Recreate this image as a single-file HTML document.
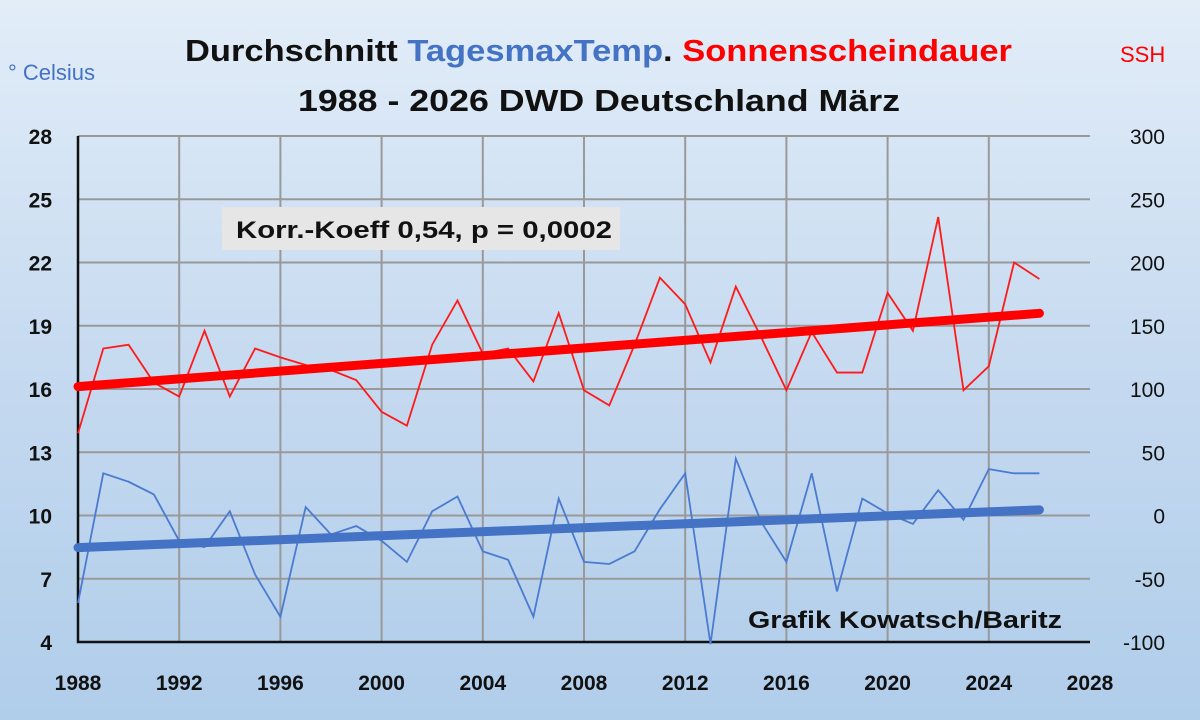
<!DOCTYPE html>
<html><head><meta charset="utf-8"><style>
html,body{margin:0;padding:0;}
body{width:1200px;height:720px;overflow:hidden;background:linear-gradient(180deg,#e2edf8 0%,#c6daf0 50%,#b0cdea 100%);font-family:"Liberation Sans",sans-serif;}
svg{display:block;}
svg text{font-family:"Liberation Sans",sans-serif;}
</style></head><body>
<svg id="chart" width="1200" height="720">
<text x="185" y="61" font-size="31" font-weight="bold" textLength="827" lengthAdjust="spacingAndGlyphs"><tspan fill="#111">Durchschnitt </tspan><tspan fill="#4472c4">TagesmaxTemp</tspan><tspan fill="#111">. </tspan><tspan fill="#ff0000">Sonnenscheindauer</tspan></text>
<text x="298" y="111" font-size="31" font-weight="bold" fill="#111" textLength="602" lengthAdjust="spacingAndGlyphs">1988 - 2026 DWD Deutschland März</text>
<text x="8" y="80" font-size="22" fill="#4472c4">° Celsius</text>
<text x="1120" y="62" font-size="22" fill="#ff0000">SSH</text>
<g id="grid"></g><g id="axes"></g><g id="series"></g>
<rect x="222" y="207" width="398" height="43" fill="#e6e6e6"/>
<text x="236" y="238" font-size="24" font-weight="bold" fill="#111" textLength="376" lengthAdjust="spacingAndGlyphs">Korr.-Koeff 0,54, p = 0,0002</text>
<text x="748" y="628" font-size="24" font-weight="bold" fill="#111" textLength="314" lengthAdjust="spacingAndGlyphs">Grafik Kowatsch/Baritz</text>
</svg>
<script>
const years=[1988,1989,1990,1991,1992,1993,1994,1995,1996,1997,1998,1999,2000,2001,2002,2003,2004,2005,2006,2007,2008,2009,2010,2011,2012,2013,2014,2015,2016,2017,2018,2019,2020,2021,2022,2023,2024,2025,2026];
const tempValues=[5.85,12.0,11.6,11.0,8.8,8.5,10.2,7.2,5.2,10.4,9.1,9.5,8.8,7.8,10.2,10.9,8.3,7.9,5.2,10.8,7.8,7.7,8.3,10.3,12.0,3.9,12.7,9.7,7.8,12.0,6.4,10.8,10.1,9.6,11.2,9.8,12.2,12.0,12.0];
const sunValues=[65,132,135,105,94,146,94,132,125,119,115,107,82,71,135,170,128,132,106,160,99,87,135,188,167,121,181,141,99,145,113,113,176,146,236,99,118,200,187];
const xTicks=[1988,1992,1996,2000,2004,2008,2012,2016,2020,2024,2028];
const leftTicks=[4,7,10,13,16,19,22,25,28];
const rightTicks=[-100,-50,0,50,100,150,200,250,300];
const NS='http://www.w3.org/2000/svg';
const X0=78,X1=1090,Y0=136,Y1=642;
const xs=v=>X0+(v-1988)/40*(X1-X0);
const yl=v=>Y1-(v-4)/24*(Y1-Y0);
const yr=v=>Y1-(v+100)/400*(Y1-Y0);
function mk(tag,attrs,parent){const e=document.createElementNS(NS,tag);for(const k in attrs)e.setAttribute(k,attrs[k]);document.getElementById(parent).appendChild(e);return e;}
xTicks.forEach((t,i)=>{
 if(i>0&&i<xTicks.length-1){const g=mk('line',{x1:xs(t),x2:xs(t),y1:Y0,y2:Y1,stroke:'#999','stroke-width':2},'grid');
 
 }
 const l=mk('text',{x:xs(t),y:690,'text-anchor':'middle','font-size':21,'font-weight':'bold',fill:'#111'},'axes');l.textContent=t;
 
 
});
leftTicks.forEach((t,i)=>{
 if(i>0){const g=mk('line',{x1:X0,x2:X1,y1:yl(t),y2:yl(t),stroke:'#999','stroke-width':2},'grid');
 
 }
 const l=mk('text',{x:52,y:yl(t)+8,'text-anchor':'end','font-size':21,'font-weight':'bold',fill:'#111'},'axes');l.textContent=t;
 
 
});
rightTicks.forEach(t=>{
 const l=mk('text',{x:1165,y:yr(t)+8,'text-anchor':'end','font-size':21,fill:'#111'},'axes');l.textContent=t;
 
 
});
const ax=mk('path',{d:`M${X0},${Y0}V${Y1}H${X1}`,stroke:'#111','stroke-width':2.5,fill:'none'},'axes');


function fit(vals){const n=vals.length;const mx=years.reduce((a,b)=>a+b)/n,my=vals.reduce((a,b)=>a+b)/n;let sxy=0,sxx=0;years.forEach((x,i)=>{sxy+=(x-mx)*(vals[i]-my);sxx+=(x-mx)**2;});const b=sxy/sxx;return x=>my+b*(x-mx);}
function line(vals,ys,color,w,name){const p=mk('polyline',{points:years.map((y,i)=>xs(y)+','+ys(vals[i])).join(' '),fill:'none',stroke:color,'stroke-width':w,'stroke-linejoin':'miter'},'series');
 
 }
function trend(vals,ys,color,name){const f=fit(vals);const a=years[0],b=years[years.length-1];const p=mk('line',{x1:xs(a),y1:ys(f(a)),x2:xs(b),y2:ys(f(b)),stroke:color,'stroke-width':9,'stroke-linecap':'round'},'series');
 
 }
line(sunValues,yr,'#ff1a1a',1.8,'sunshine-line');
trend(sunValues,yr,'#ff0000','sunshine-trend');
line(tempValues,yl,'#4a7bd0',1.8,'temperature-line');
trend(tempValues,yl,'#4472c4','temperature-trend');
</script>
</body></html>
